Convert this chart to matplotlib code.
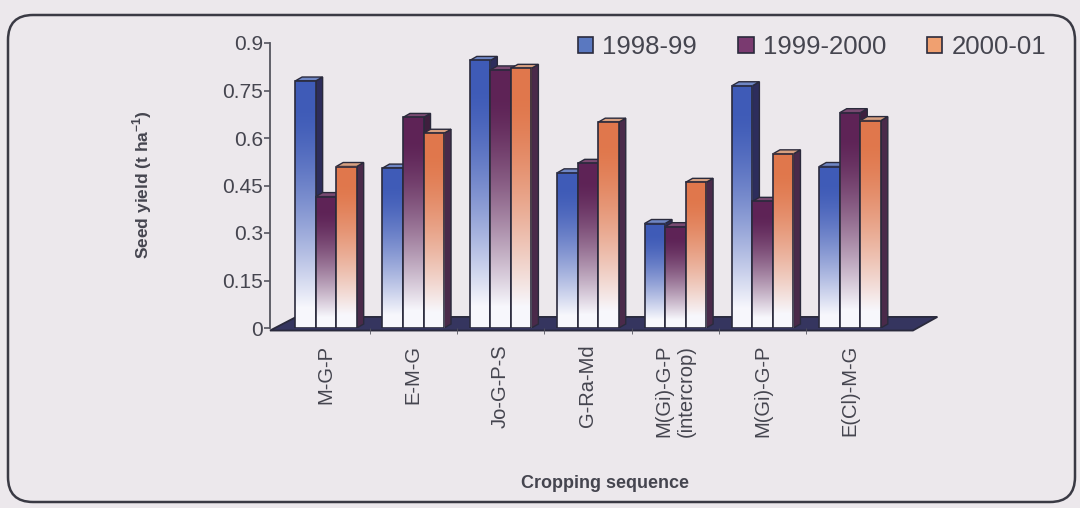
import numpy as np
import matplotlib.pyplot as plt
from matplotlib.patches import Polygon, Patch, FancyBboxPatch

plt.rcParams['font.family'] = ['Liberation Sans', 'DejaVu Sans']
plt.rcParams['mathtext.fontset'] = 'custom'
plt.rcParams['mathtext.rm'] = 'Liberation Sans'
plt.rcParams['mathtext.bf'] = 'Liberation Sans:bold'

# data
categories = ['M-G-P', 'E-M-G', 'Jo-G-P-S', 'G-Ra-Md',
              'M(Gi)-G-P\n(intercrop)', 'M(Gi)-G-P', 'E(Cl)-M-G']
series = ['1998-99', '1999-2000', '2000-01']
y1998 = [0.78, 0.505, 0.845, 0.49, 0.33, 0.765, 0.51]
y1999 = [0.415, 0.665, 0.815, 0.52, 0.32, 0.40, 0.68]
y2000 = [0.51, 0.615, 0.82, 0.65, 0.46, 0.55, 0.655]
yticks = [0, 0.15, 0.3, 0.45, 0.6, 0.75, 0.9]
ytick_labels = ['0', '0.15', '0.3', '0.45', '0.6', '0.75', '0.9']

# styles: top colour of gradient, side face, top face, legend swatch
top_cols = [(0.25, 0.36, 0.72), (0.37, 0.14, 0.34), (0.88, 0.47, 0.30)]
side_cols = ['#2d2d5c', '#3e1f3e', '#4a2a4a']
cap_cols = ['#6f86c4', '#7a4a72', '#d8a080']
leg_cols = ['#5a78c0', '#7a3a70', '#f0a070']
edge = '#2a2a3c'
txt = '#45454f'
bg = '#ece8ec'

fig = plt.figure(figsize=(10.8, 5.08), dpi=100, facecolor=bg)
ax = fig.add_axes([270 / 1080, 180 / 508, 670 / 1080, 285 / 508])
ax.set_facecolor('none')

xmin, xmax = -0.64, 7.03
bw = 0.235
ddx, ddy = 0.08, 0.0126   # bar depth

# floor slab
floor = Polygon([(xmin, -0.008), (6.72, -0.008), (7.0, 0.035), (xmin + 0.3, 0.035)],
                closed=True, fc='#35355f', ec=edge, lw=1.3, zorder=1, clip_on=False)
ax.add_patch(floor)


def gradient(col, n=200):
    t = np.linspace(0, 1, n)[:, None]
    f = np.clip((t - 0.12) / 0.8, 0, 1) ** 1.4
    c = np.array(col)[None, :]
    g = c * (1 - f) + np.array([0.97, 0.97, 0.99])[None, :] * f
    return g[:, None, :]


values = [y1998, y1999, y2000]
z = 2
for i in range(len(categories)):
    for j in range(3):
        h = values[j][i]
        x0 = i - 1.5 * bw + j * bw
        x1 = x0 + bw
        # side face
        ax.add_patch(Polygon([(x1, 0), (x1 + ddx, ddy), (x1 + ddx, h + ddy), (x1, h)],
                             closed=True, fc=side_cols[j], ec=edge, lw=1, zorder=z))
        # top face
        ax.add_patch(Polygon([(x0, h), (x0 + ddx, h + ddy), (x1 + ddx, h + ddy), (x1, h)],
                             closed=True, fc=cap_cols[j], ec=edge, lw=1, zorder=z))
        # front face with gradient
        ax.imshow(gradient(top_cols[j]), extent=(x0, x1, 0, h), aspect='auto',
                  origin='upper', interpolation='bilinear', zorder=z + 0.5)
        ax.add_patch(Polygon([(x0, 0), (x0, h), (x1, h), (x1, 0)], closed=True,
                             fill=False, ec=edge, lw=1.2, zorder=z + 0.6))
        z += 1

ax.set_xlim(xmin, xmax)
ax.set_ylim(0, 0.9)
ax.set_aspect('auto')

for s in ['top', 'right', 'bottom']:
    ax.spines[s].set_visible(False)
ax.spines['left'].set_color('#55555f')
ax.spines['left'].set_linewidth(1.3)

ax.set_yticks(yticks)
ax.set_yticklabels(ytick_labels, fontsize=15, color=txt)
ax.tick_params(axis='y', length=4, width=1.2, color='#55555f', pad=1)

ax.set_xticks(range(len(categories)))
ax.set_xticklabels(categories, rotation=90, fontsize=14.5, color=txt,
                   va='top', ha='center', multialignment='center')
ax.tick_params(axis='x', length=0, pad=12)
ax.set_xticks([i + 0.5 for i in range(len(categories) - 1)], minor=True)
ax.tick_params(axis='x', which='minor', length=4, color='#55555f')

fig.text(142 / 1080, 0.636, r'Seed yield (t ha$^{\mathbf{-1}}$)', rotation=90,
         fontsize=12.5, fontweight='bold', color=txt, ha='center', va='center')
fig.text(605 / 1080, 25 / 508, 'Cropping sequence', fontsize=13,
         fontweight='bold', color=txt, ha='center', va='center')

handles = [Patch(fc=leg_cols[k], ec=edge, lw=1.2, label=series[k]) for k in range(3)]
fig.legend(handles=handles, loc='center', bbox_to_anchor=(812 / 1080, 461 / 508),
           ncol=3, frameon=False, fontsize=18.5, handlelength=0.6, handleheight=0.6,
           handletextpad=0.35, columnspacing=1.6, labelcolor=txt)

box = FancyBboxPatch((0.08, 0.06), 10.67, 4.87,
                     boxstyle='round,pad=0,rounding_size=0.25',
                     transform=fig.dpi_scale_trans, fill=False, ec='#3a3a44', lw=1.8)
fig.add_artist(box)

fig.savefig('out.png', dpi=100, facecolor=bg)
